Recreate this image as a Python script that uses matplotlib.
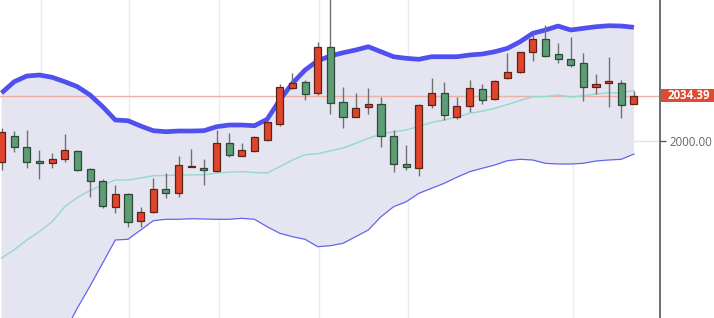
import matplotlib
matplotlib.use("Agg")
import matplotlib.pyplot as plt
from matplotlib.patches import Rectangle
import numpy as np

# ---- data ----
opens  = [1984.35, 2003.78, 1995.24, 1985.11, 1983.14, 1986.39, 1992.67, 1978.61, 1969.76, 1949.88,
          1959.71, 1939.75, 1946.56, 1963.72, 1960.47, 1980.57, 1979.36, 1977.55, 1998.71, 1988.89,
          1992.44, 2000.76, 2012.62, 2039.84, 2044.83, 2036.51, 2070.83, 2029.25, 2018.37, 2025.47,
          2028.20, 2003.78, 1982.61, 1979.82, 2027.21, 2036.06, 2018.37, 2026.46, 2039.31, 2031.52,
          2047.40, 2051.93, 2067.05, 2076.88, 2065.76, 2062.21, 2059.19, 2040.59, 2043.62, 2043.62,
          2027.97]
highs  = [2009.83, 2007.56, 2008.31, 1993.20, 1991.16, 2005.29, 1993.20, 1979.36, 1971.28, 1966.74,
          1960.92, 1950.34, 1971.80, 1976.04, 1988.89, 1993.73, 1986.17, 2008.31, 2006.27, 1998.71,
          2003.78, 2014.59, 2043.09, 2051.63, 2046.11, 2074.61, 2115.00, 2041.05, 2036.06, 2039.84,
          2033.49, 2008.31, 1996.98, 2027.97, 2047.40, 2044.83, 2033.03, 2046.11, 2043.09, 2046.11,
          2066.75, 2067.50, 2082.62, 2087.68, 2074.31, 2078.39, 2066.29, 2050.65, 2063.27, 2046.11,
          2038.02]
lows   = [1978.08, 1991.69, 1979.36, 1971.05, 1979.82, 1984.35, 1977.32, 1957.44, 1949.13, 1945.35,
          1934.77, 1934.77, 1945.35, 1956.69, 1957.44, 1980.12, 1966.74, 1976.79, 1988.13, 1988.66,
          1991.91, 2000.23, 2011.34, 2039.08, 2030.99, 2034.77, 2020.41, 2010.05, 2017.91, 2020.41,
          1995.69, 1976.79, 1978.08, 1973.77, 2024.72, 2015.87, 2016.40, 2022.15, 2028.20, 2030.99,
          2046.64, 2051.63, 2060.70, 2063.72, 2058.73, 2055.71, 2030.46, 2035.53, 2025.47, 2017.16,
          2027.97]
closes = [2007.03, 1995.69, 1983.90, 1983.14, 1986.17, 1993.20, 1978.08, 1969.76, 1950.87, 1959.71,
          1939.00, 1946.56, 1963.72, 1960.47, 1981.86, 1981.33, 1977.85, 1998.71, 1989.42, 1992.97,
          2003.25, 2014.14, 2041.05, 2043.62, 2035.53, 2070.83, 2028.95, 2018.37, 2024.94, 2028.20,
          2004.01, 1982.39, 1980.12, 2027.44, 2036.06, 2019.65, 2026.46, 2040.29, 2030.77, 2045.58,
          2052.38, 2067.28, 2076.88, 2064.48, 2061.98, 2057.68, 2040.59, 2042.86, 2045.58, 2027.21,
          2034.39]
upper_band = [2036.28, 2044.83, 2049.13, 2049.89, 2048.15, 2044.83, 2041.05, 2034.77, 2025.93, 2015.87,
              2015.34, 2011.34, 2007.79, 2007.03, 2007.56, 2007.56, 2007.79, 2010.81, 2012.09, 2012.09,
              2011.57, 2016.40, 2030.99, 2043.62, 2053.67, 2060.70, 2064.25, 2066.75, 2068.79, 2071.28,
              2067.50, 2063.72, 2062.51, 2061.76, 2063.72, 2063.72, 2063.72, 2065.01, 2065.76, 2067.50,
              2070.07, 2075.06, 2081.41, 2083.90, 2086.93, 2083.90, 2085.19, 2086.40, 2087.16, 2086.93,
              2085.95]
lower_band = [1786.84, 1790.62, 1801.20, 1813.29, 1829.92, 1855.85, 1873.76, 1890.39, 1907.78, 1925.17,
              1925.69, 1932.72, 1939.75, 1940.81, 1940.81, 1941.27, 1941.04, 1940.81, 1940.81, 1941.57,
              1940.81, 1935.22, 1930.23, 1927.66, 1925.69, 1920.10, 1920.86, 1922.67, 1927.66, 1932.72,
              1942.78, 1950.34, 1954.12, 1960.47, 1964.25, 1968.03, 1972.56, 1976.79, 1979.36, 1981.86,
              1985.11, 1986.17, 1985.64, 1983.14, 1982.61, 1982.61, 1983.14, 1984.88, 1985.64, 1986.17,
              1990.17]
last_price = 2034.39
grid_x = [3.12, 10.08, 17.19, 25.1, 32.13, 45.18]
y_ticks = [2000.0]

# ---- styles ----
RED = "#e0442c"
RED_EDGE = "#5a2418"
GREEN = "#5e9c76"
GREEN_EDGE = "#2c4a36"
WICK = "#707070"

plt.rcParams["font.family"] = ["Open Sans", "DejaVu Sans"]

W, H = 714, 318
fig = plt.figure(figsize=(W / 100, H / 100), dpi=100)
ax = fig.add_axes([0, 0, 660 / W, 1])

x = np.arange(len(closes))
o = np.array(opens); h = np.array(highs); l = np.array(lows); c = np.array(closes)
ub = np.array(upper_band); lb = np.array(lower_band)
mid = (ub + lb) / 2

ax.set_xlim(-0.12, 52.06)
ax.set_ylim(1866.2, 2106.6)

# grid
for gx in grid_x:
    ax.axvline(gx, color="#ebebef", lw=1, zorder=0)
for gy in y_ticks:
    ax.axhline(gy, color="#e4e4e8", lw=1, zorder=0.5)

# bands
ax.fill_between(x, lb, ub, color="#e5e5f2", zorder=1, lw=0)
ax.plot(x, mid, color="#92dac8", lw=1.0, zorder=2)
ax.plot(x, lb, color="#6464ec", lw=0.9, zorder=2)
ax.plot(x, ub, color="#5050ee", lw=3.4, zorder=2, solid_capstyle="butt")

# price line
ax.axhline(last_price, color="#eab0a6", lw=1.0, zorder=1.5)

# candles
w = 0.56
for i in range(len(c)):
    up = c[i] >= o[i]
    ax.vlines(x[i], l[i], h[i], color=WICK, lw=1.0, zorder=3)
    lo_b = min(o[i], c[i]); hi_b = max(o[i], c[i])
    hgt = max(hi_b - lo_b, 0.6)
    ax.bar(x[i], hgt, bottom=lo_b - (hgt - (hi_b - lo_b)) / 2, width=w,
           color=RED if up else GREEN, edgecolor=RED_EDGE if up else GREEN_EDGE,
           linewidth=0.9, zorder=4)

# axes styling
for s in ["top", "left", "bottom"]:
    ax.spines[s].set_visible(False)
ax.spines["right"].set_color("#555555")
ax.spines["right"].set_linewidth(1.2)
ax.yaxis.tick_right()
ax.set_yticks(y_ticks)
ax.set_yticklabels([f"{v:.2f}" for v in y_ticks])
ax.tick_params(axis="y", colors="#555555", labelcolor="#666666", labelsize=8.3,
               length=4, width=1, pad=3)
ax.set_xticks([])

# last price label (box flush with the axis)
fig.canvas.draw()
y_px = ax.transData.transform((0, last_price))[1]
fig.patches.append(Rectangle((661 / W, (y_px - 6.5) / H), (W - 661) / W, 13 / H,
                             transform=fig.transFigure, fc="#dd4b32", ec="none", zorder=10))
fig.text(668 / W, y_px / H, f"{last_price:.2f}", ha="left", va="center",
         color="white", fontsize=8.3, fontweight="bold", zorder=11)

fig.savefig("out.png", dpi=100)
